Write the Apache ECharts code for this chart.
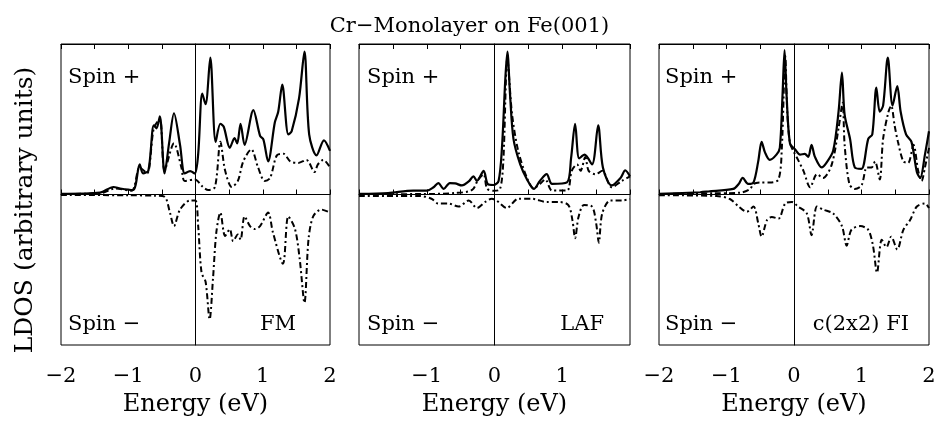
<!DOCTYPE html>
<html>
<head>
<meta charset="utf-8">
<script src="https://cdn.jsdelivr.net/npm/echarts@6/dist/echarts.min.js"></script>
<style>
  html, body { margin: 0; padding: 0; background: #fff; }
  #chart { width: 939px; height: 422px; }
</style>
</head>
<body>
<div id="chart"></div>
<script>
// energy (eV) vs LDOS (arbitrary units)
var tickLabels = [-2, -1, 0, 1, 2];

// FM
var fmTotalUp = [[-2,0.005],[-1.42,0.013],[-1.22,0.05],[-1.12,0.04],[-0.93,0.03],[-0.83,0.2],[-0.78,0.14],[-0.7,0.16],[-0.62,0.46],[-0.58,0.44],[-0.53,0.52],[-0.46,0.14],[-0.39,0.35],[-0.32,0.54],[-0.23,0.33],[-0.16,0.14],[-0.08,0.155],[-0.01,0.14],[0.04,0.27],[0.1,0.67],[0.15,0.6],[0.22,0.91],[0.3,0.35],[0.37,0.47],[0.42,0.45],[0.51,0.31],[0.58,0.375],[0.62,0.34],[0.67,0.47],[0.73,0.33],[0.86,0.56],[0.96,0.39],[1.01,0.365],[1.08,0.22],[1.18,0.48],[1.23,0.55],[1.29,0.73],[1.38,0.4],[1.43,0.42],[1.54,0.64],[1.62,0.95],[1.69,0.4],[1.8,0.26],[1.91,0.36],[2,0.29]];
var fmCrUp = [[-2,0.003],[-1.4,0.01],[-1.2,0.04],[-0.95,0.025],[-0.83,0.18],[-0.72,0.14],[-0.62,0.44],[-0.53,0.5],[-0.46,0.16],[-0.32,0.34],[-0.21,0.18],[-0.16,0.09],[-0.01,0.1],[0.11,0.05],[0.19,0.03],[0.29,0.05],[0.37,0.35],[0.44,0.16],[0.54,0.05],[0.63,0.09],[0.71,0.22],[0.83,0.3],[0.93,0.18],[1.03,0.09],[1.11,0.11],[1.21,0.26],[1.31,0.27],[1.41,0.22],[1.53,0.21],[1.65,0.23],[1.77,0.15],[1.82,0.2],[1.9,0.23],[2,0.18]];
var fmCrDown = [[-2,-0.003],[-1,-0.005],[-0.6,-0.008],[-0.46,-0.015],[-0.38,-0.12],[-0.32,-0.21],[-0.23,-0.1],[-0.08,-0.04],[0,-0.04],[0.04,-0.21],[0.09,-0.52],[0.15,-0.58],[0.21,-0.83],[0.26,-0.56],[0.31,-0.25],[0.37,-0.12],[0.44,-0.275],[0.51,-0.23],[0.56,-0.31],[0.63,-0.265],[0.67,-0.3],[0.73,-0.145],[0.81,-0.21],[0.88,-0.23],[0.96,-0.21],[1.08,-0.12],[1.15,-0.25],[1.3,-0.46],[1.38,-0.145],[1.48,-0.23],[1.55,-0.43],[1.62,-0.72],[1.68,-0.3],[1.75,-0.145],[1.87,-0.1],[2,-0.12]];

// LAF
var lafTotalUp = [[-2,0.004],[-1.57,0.01],[-1.2,0.026],[-1,0.026],[-0.9,0.048],[-0.83,0.076],[-0.75,0.037],[-0.66,0.076],[-0.58,0.074],[-0.48,0.06],[-0.38,0.087],[-0.31,0.12],[-0.26,0.09],[-0.16,0.157],[-0.1,0.07],[-0.015,0.063],[0.06,0.09],[0.11,0.31],[0.16,0.77],[0.19,0.95],[0.23,0.66],[0.28,0.37],[0.38,0.2],[0.48,0.1],[0.58,0.037],[0.67,0.09],[0.77,0.135],[0.85,0.07],[1.07,0.08],[1.13,0.24],[1.19,0.47],[1.25,0.24],[1.33,0.265],[1.44,0.2],[1.53,0.46],[1.6,0.18],[1.73,0.06],[1.86,0.11],[1.93,0.16],[2,0.12]];
var lafCrUp = [[-2,0.002],[-1.07,0.003],[-0.58,0.01],[-0.33,0.03],[-0.24,0.1],[-0.16,0.135],[-0.11,0.04],[-0.01,0.025],[0.08,0.035],[0.13,0.22],[0.19,0.9],[0.26,0.53],[0.35,0.29],[0.48,0.11],[0.58,0.04],[0.67,0.07],[0.75,0.1],[0.85,0.026],[1.07,0.026],[1.14,0.157],[1.22,0.2],[1.27,0.157],[1.34,0.25],[1.39,0.157],[1.49,0.135],[1.59,0.157],[1.73,0.048],[1.88,0.09],[2,0.12]];
var lafCrDown = [[-2,-0.01],[-1.1,-0.01],[-0.93,-0.028],[-0.83,-0.06],[-0.68,-0.06],[-0.53,-0.08],[-0.38,-0.04],[-0.26,-0.09],[-0.14,-0.05],[-0.04,-0.028],[0.03,-0.04],[0.18,-0.09],[0.35,-0.028],[0.55,-0.028],[0.77,-0.05],[0.95,-0.05],[1.09,-0.07],[1.15,-0.17],[1.19,-0.29],[1.24,-0.15],[1.32,-0.07],[1.44,-0.08],[1.5,-0.19],[1.54,-0.32],[1.59,-0.126],[1.71,-0.04],[1.88,-0.04],[2,-0.03]];

// c(2x2) FI
var fiTotalUp = [[-2,0.004],[-1.39,0.015],[-1.27,0.02],[-0.9,0.037],[-0.82,0.07],[-0.76,0.11],[-0.68,0.07],[-0.6,0.08],[-0.53,0.22],[-0.48,0.35],[-0.43,0.28],[-0.36,0.23],[-0.26,0.265],[-0.21,0.31],[-0.17,0.66],[-0.14,0.96],[-0.11,0.66],[-0.06,0.34],[0.015,0.3],[0.09,0.265],[0.16,0.27],[0.21,0.25],[0.26,0.33],[0.31,0.25],[0.41,0.18],[0.48,0.21],[0.58,0.29],[0.66,0.55],[0.71,0.81],[0.75,0.53],[0.83,0.37],[0.9,0.18],[1,0.17],[1.1,0.37],[1.16,0.4],[1.22,0.71],[1.27,0.55],[1.32,0.59],[1.39,0.91],[1.46,0.59],[1.53,0.72],[1.58,0.55],[1.66,0.4],[1.74,0.35],[1.82,0.15],[1.87,0.11],[1.94,0.265],[2,0.42]];
var fiCrUp = [[-2,0.003],[-1.2,0.008],[-0.8,0.012],[-0.65,0.037],[-0.6,0.07],[-0.5,0.08],[-0.36,0.08],[-0.23,0.1],[-0.18,0.31],[-0.13,0.92],[-0.1,0.55],[-0.06,0.34],[-0.01,0.29],[0.06,0.23],[0.14,0.157],[0.24,0.048],[0.34,0.135],[0.43,0.11],[0.56,0.2],[0.66,0.44],[0.72,0.61],[0.75,0.33],[0.82,0.07],[0.9,0.037],[1,0.06],[1.08,0.18],[1.15,0.18],[1.2,0.22],[1.27,0.1],[1.32,0.37],[1.4,0.55],[1.44,0.59],[1.49,0.46],[1.54,0.35],[1.62,0.22],[1.69,0.21],[1.77,0.33],[1.84,0.157],[1.89,0.09],[1.94,0.18],[2,0.31]];
var fiCrDown = [[-2,-0.005],[-1.15,-0.01],[-0.95,-0.03],[-0.82,-0.08],[-0.7,-0.115],[-0.6,-0.08],[-0.53,-0.19],[-0.48,-0.28],[-0.4,-0.17],[-0.33,-0.15],[-0.23,-0.16],[-0.13,-0.06],[-0.03,-0.05],[0.06,-0.08],[0.19,-0.126],[0.26,-0.27],[0.34,-0.08],[0.43,-0.1],[0.58,-0.126],[0.71,-0.21],[0.78,-0.34],[0.85,-0.235],[0.98,-0.21],[1.1,-0.235],[1.17,-0.34],[1.23,-0.52],[1.3,-0.3],[1.37,-0.35],[1.44,-0.28],[1.53,-0.365],[1.62,-0.235],[1.72,-0.17],[1.82,-0.08],[1.94,-0.06],[2,-0.09]];

var panels = [
    { left: 61, width: 269, labels: tickLabels, up: fmTotalUp, crUp: fmCrUp, crDown: fmCrDown },
    { left: 359, width: 271, labels: [-1, 0, 1], up: lafTotalUp, crUp: lafCrUp, crDown: lafCrDown },
    { left: 659, width: 270, labels: tickLabels, up: fiTotalUp, crUp: fiCrUp, crDown: fiCrDown }
];

var FONT = '"DejaVu Serif", serif';
var dashDot = [6, 3, 2, 3];

function fmtTick(labels) {
    return function (v) {
        if (labels.indexOf(v) < 0) return '';
        return v < 0 ? '\u2212' + (-v) : String(v);
    };
}

var grid = [], xAxis = [], yAxis = [], series = [];
panels.forEach(function (p, i) {
    grid.push({
        left: p.left, top: 44, width: p.width, height: 306,
        show: true, borderColor: '#000', borderWidth: 1
    });
    // bottom axis with labels
    xAxis.push({
        type: 'value', gridIndex: i, min: -2, max: 2, interval: 0.5,
        name: 'Energy (eV)', nameLocation: 'middle', nameGap: 48,
        nameTextStyle: { fontFamily: FONT, fontSize: 24, color: '#000' },
        axisLine: { show: true, lineStyle: { color: '#000', width: 1 } },
        axisTick: { show: true, inside: true, length: 5, lineStyle: { color: '#000' } },
        axisLabel: {
            margin: 21, fontFamily: FONT, fontSize: 21, color: '#000',
            formatter: fmtTick(p.labels)
        },
        splitLine: { show: false }
    });
    // top axis, ticks only
    xAxis.push({
        type: 'value', gridIndex: i, position: 'top', min: -2, max: 2, interval: 0.5,
        axisLine: { show: true, lineStyle: { color: '#000', width: 1 } },
        axisTick: { show: true, inside: true, length: 5, lineStyle: { color: '#000' } },
        axisLabel: { show: false },
        splitLine: { show: false }
    });
    yAxis.push({
        type: 'value', gridIndex: i, min: -1, max: 1,
        axisLine: { show: true, lineStyle: { color: '#000', width: 1 } },
        axisTick: { show: false },
        axisLabel: { show: false },
        splitLine: { show: false }
    });

    series.push({
        type: 'line', xAxisIndex: i * 2, yAxisIndex: i,
        data: p.up, showSymbol: false, smooth: 0.3,
        lineStyle: { color: '#000', width: 2.2 },
        markLine: {
            silent: true, symbol: 'none', label: { show: false },
            lineStyle: { color: '#000', width: 1, type: 'solid' },
            data: [{ yAxis: 0 }, { xAxis: 0 }]
        },
        z: 3
    });
    series.push({
        type: 'line', xAxisIndex: i * 2, yAxisIndex: i,
        data: p.crUp, showSymbol: false, smooth: 0.3,
        lineStyle: { color: '#000', width: 2, type: dashDot },
        z: 2
    });
    series.push({
        type: 'line', xAxisIndex: i * 2, yAxisIndex: i,
        data: p.crDown, showSymbol: false, smooth: 0.3,
        lineStyle: { color: '#000', width: 2, type: dashDot },
        z: 2
    });
});

function label(text, x, y, align) {
    return {
        type: 'text', x: x, y: y,
        style: {
            text: text, font: '21px ' + FONT, fill: '#000',
            align: align || 'left', verticalAlign: 'middle',
            textAlign: align || 'left', textVerticalAlign: 'middle'
        }
    };
}

var myChart = echarts.init(document.getElementById('chart'));
var option = {
    animation: false,
    backgroundColor: '#fff',
    title: {
        text: 'Cr\u2212Monolayer on Fe(001)',
        left: 'center', top: 11,
        textStyle: { fontFamily: FONT, fontSize: 21, fontWeight: 'normal', color: '#000' }
    },
    grid: grid,
    xAxis: xAxis,
    yAxis: yAxis,
    series: series,
    graphic: [
        label('Spin +', 68, 78), label('Spin \u2212', 68, 325), label('FM', 296, 325, 'right'),
        label('Spin +', 367, 78), label('Spin \u2212', 367, 325), label('LAF', 604, 325, 'right'),
        label('Spin +', 665, 78), label('Spin \u2212', 665, 325), label('c(2x2) FI', 909, 325, 'right'),
        {
            type: 'text', x: 25, y: 210, rotation: Math.PI / 2,
            style: {
                text: 'LDOS (arbitrary units)', font: '25px ' + FONT, fill: '#000',
                align: 'center', verticalAlign: 'middle',
                textAlign: 'center', textVerticalAlign: 'middle'
            }
        }
    ]
};
myChart.setOption(option);
window.addEventListener('resize', function () {
    myChart.resize();
});
</script>
</body>
</html>
